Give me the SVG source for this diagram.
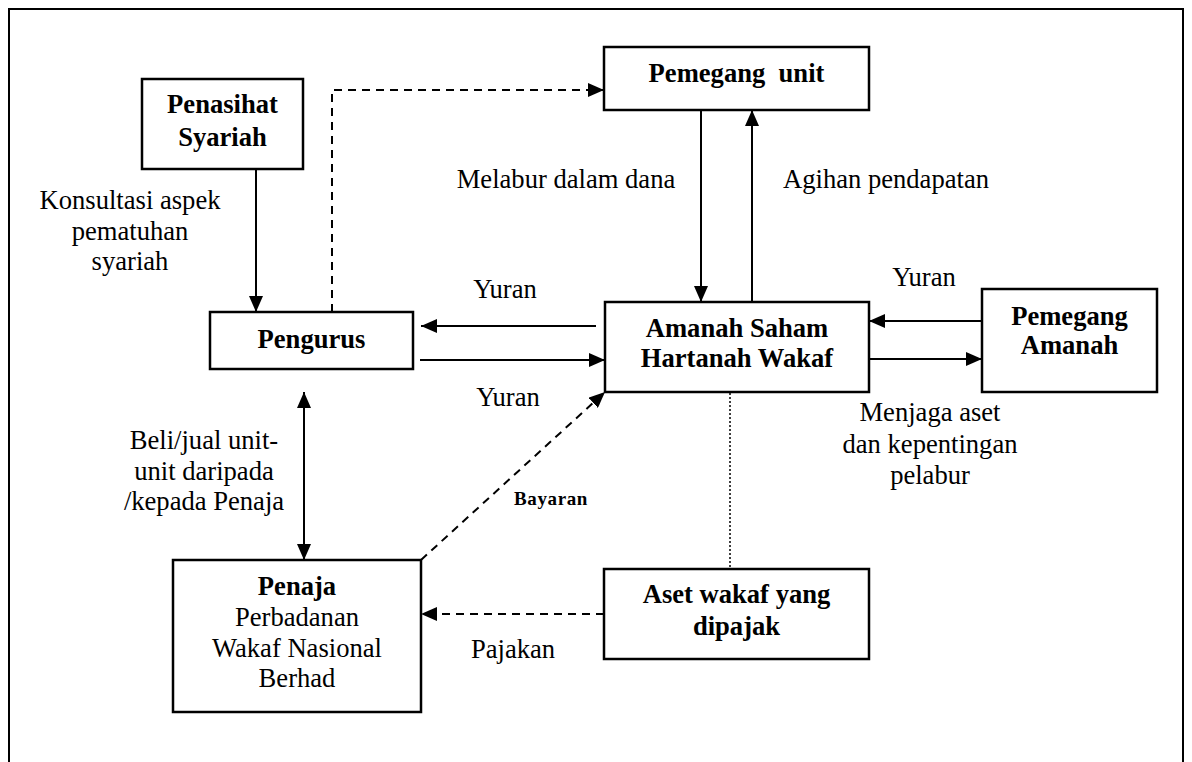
<svg xmlns="http://www.w3.org/2000/svg" width="1192" height="762" viewBox="0 0 1192 762">
  <style>
    .box { fill: #fff; stroke: #000; stroke-width: 2.5; }
    .t { font-family: "Liberation Serif", "Times New Roman", Times, serif; font-size: 26.6px; fill: #000; text-anchor: middle; }
    .b { font-weight: bold; }
    .ln { fill: none; stroke: #000; stroke-width: 2; }
    .dash { stroke-dasharray: 8 6; }
    .dot { stroke-width: 1.5; stroke-dasharray: 2 2; }
  </style>
  <defs>
    <marker id="arr" viewBox="0 0 16 14" refX="16" refY="7" markerWidth="16" markerHeight="14" orient="auto-start-reverse" markerUnits="userSpaceOnUse">
      <path d="M0,0 L16,7 L0,14 z" fill="#000"/>
    </marker>
  </defs>

  <rect width="1192" height="762" fill="#fff"/>
  <!-- outer frame (runs past the bottom edge) -->
  <rect x="9" y="9" width="1174" height="770" fill="none" stroke="#000" stroke-width="2"/>

  <!-- connectors -->
  <g id="connectors">
    <line class="ln" x1="256" y1="169" x2="256" y2="312" marker-end="url(#arr)"/>
    <polyline class="ln dash" points="332,312 332,90 604,90" marker-end="url(#arr)"/>
    <line class="ln" x1="701" y1="110" x2="701" y2="302" marker-end="url(#arr)"/>
    <line class="ln" x1="752" y1="302" x2="752" y2="110" marker-end="url(#arr)"/>
    <line class="ln" x1="596" y1="326" x2="421" y2="326" marker-end="url(#arr)"/>
    <line class="ln" x1="420" y1="360" x2="605" y2="360" marker-end="url(#arr)"/>
    <line class="ln" x1="982" y1="321" x2="869" y2="321" marker-end="url(#arr)"/>
    <line class="ln" x1="869" y1="359" x2="982" y2="359" marker-end="url(#arr)"/>
    <line class="ln" x1="304" y1="392" x2="304" y2="560" marker-start="url(#arr)" marker-end="url(#arr)"/>
    <line class="ln dash" x1="421" y1="560" x2="605" y2="392" marker-end="url(#arr)"/>
    <line class="ln dash" x1="604" y1="614" x2="421" y2="614" marker-end="url(#arr)"/>
    <line class="ln dot" x1="730" y1="393" x2="730" y2="569"/>
  </g>

  <!-- connector labels -->
  <g id="labels">
    <text class="t" x="130" y="209">Konsultasi aspek</text>
    <text class="t" x="130" y="240">pematuhan</text>
    <text class="t" x="130" y="270">syariah</text>
    <text class="t" x="566" y="188">Melabur dalam dana</text>
    <text class="t" x="886" y="188">Agihan pendapatan</text>
    <text class="t" x="505" y="298">Yuran</text>
    <text class="t" x="508" y="406">Yuran</text>
    <text class="t" x="924" y="286">Yuran</text>
    <text class="t" x="930" y="421">Menjaga aset</text>
    <text class="t" x="930" y="453">dan kepentingan</text>
    <text class="t" x="930" y="484">pelabur</text>
    <text class="t" x="204" y="449">Beli/jual unit-</text>
    <text class="t" x="204" y="480">unit daripada</text>
    <text class="t" x="204" y="510">/kepada Penaja</text>
    <text class="t b" x="551" y="505" style="font-size:19px; letter-spacing:0.6px">Bayaran</text>
    <text class="t" x="513" y="658">Pajakan</text>
  </g>

  <!-- nodes -->
  <g id="penasihat">
    <rect class="box" x="142" y="79" width="161" height="90"/>
    <text class="t b" x="222.5" y="113">Penasihat</text>
    <text class="t b" x="222.5" y="146">Syariah</text>
  </g>
  <g id="pemegang-unit">
    <rect class="box" x="604" y="47" width="265" height="63"/>
    <text class="t b" x="736.5" y="82">Pemegang&#160; unit</text>
  </g>
  <g id="pengurus">
    <rect class="box" x="210" y="312" width="203" height="57"/>
    <text class="t b" x="311.5" y="348">Pengurus</text>
  </g>
  <g id="amanah-saham">
    <rect class="box" x="605" y="302" width="264" height="90"/>
    <text class="t b" x="737" y="337">Amanah Saham</text>
    <text class="t b" x="737" y="367">Hartanah Wakaf</text>
  </g>
  <g id="pemegang-amanah">
    <rect class="box" x="982" y="289" width="175" height="103"/>
    <text class="t b" x="1069.5" y="325">Pemegang</text>
    <text class="t b" x="1069.5" y="354">Amanah</text>
  </g>
  <g id="penaja">
    <rect class="box" x="173" y="560" width="248" height="152"/>
    <text class="t b" x="297" y="595">Penaja</text>
    <text class="t" x="297" y="626">Perbadanan</text>
    <text class="t" x="297" y="657">Wakaf Nasional</text>
    <text class="t" x="297" y="687">Berhad</text>
  </g>
  <g id="aset-wakaf">
    <rect class="box" x="604" y="569" width="265" height="90"/>
    <text class="t b" x="736.5" y="603">Aset wakaf yang</text>
    <text class="t b" x="736.5" y="635">dipajak</text>
  </g>
</svg>
